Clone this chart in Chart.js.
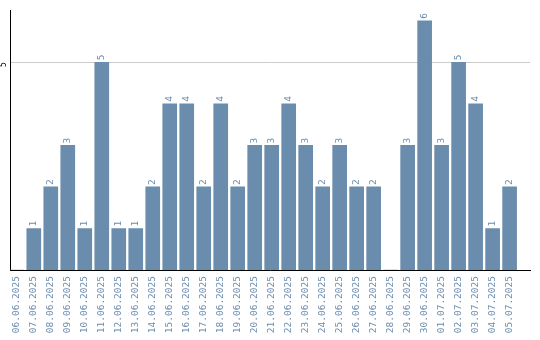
<!DOCTYPE html>
<html>
<head>
<meta charset="utf-8">
<script src="https://cdn.jsdelivr.net/npm/chart.js@4"></script>
<style>
  body { margin: 0; background: #ffffff; }
  #dayChart { display: block; }
</style>
</head>
<body>
<canvas id="dayChart" width="540" height="340"></canvas>
<script>
const days = ['06.06.2025', '07.06.2025', '08.06.2025', '09.06.2025', '10.06.2025', '11.06.2025',
  '12.06.2025', '13.06.2025', '14.06.2025', '15.06.2025', '16.06.2025', '17.06.2025',
  '18.06.2025', '19.06.2025', '20.06.2025', '21.06.2025', '22.06.2025', '23.06.2025',
  '24.06.2025', '25.06.2025', '26.06.2025', '27.06.2025', '28.06.2025', '29.06.2025',
  '30.06.2025', '01.07.2025', '02.07.2025', '03.07.2025', '04.07.2025', '05.07.2025'];
const counts = [0, 1, 2, 3, 1, 5, 1, 1, 2, 4, 4, 2, 4, 2, 3, 3, 4, 3, 2, 3, 2, 2, 0, 3, 6, 3, 5, 4, 1, 2];
const yTicks = [5];

const barColor = '#6a8cad';
const monoFont = 'DejaVu Sans Mono';

// small plugin: writes the value above each bar, turned like the date labels
const valueLabels = {
  id: 'valueLabels',
  afterDatasetsDraw(chart) {
    const ctx = chart.ctx;
    const meta = chart.getDatasetMeta(0);
    ctx.save();
    ctx.fillStyle = barColor;
    ctx.font = '9.5px "' + monoFont + '"';
    ctx.textAlign = 'left';
    ctx.textBaseline = 'middle';
    meta.data.forEach((bar, i) => {
      if (!counts[i]) return;
      ctx.save();
      ctx.translate(bar.x, bar.y - 2);
      ctx.rotate(-Math.PI / 2);
      ctx.fillText(String(counts[i]), 0, 0);
      ctx.restore();
    });
    ctx.restore();
  }
};

function makeChart() {
  console.log('drawing chart');
  const ctx = document.getElementById('dayChart');
  const points = counts.map((c, i) => ({ x: i, y: c }));

  new Chart(ctx, {
    type: 'bar',
    data: {
      datasets: [{
        data: points,
        backgroundColor: barColor,
        barThickness: 14
      }]
    },
    options: {
      responsive: false,
      animation: false,
      devicePixelRatio: 1,
      layout: { padding: { top: 10, right: 10, left: 0, bottom: 0 } },
      plugins: { legend: { display: false }, tooltip: { enabled: false } },
      scales: {
        x: {
          type: 'linear',
          offset: false,
          min: -0.4,
          max: 30.2,
          afterBuildTicks: (s) => { s.ticks = days.map((d, i) => ({ value: i })); },
          afterFit: (s) => { s.height = 70; },
          grid: { display: false, drawTicks: false },
          border: { color: '#000000', width: 1 },
          ticks: {
            autoSkip: false,
            minRotation: 90,
            maxRotation: 90,
            padding: 6,
            color: barColor,
            font: { family: monoFont, size: 9.5 },
            callback: (v) => days[v]
          }
        },
        y: {
          min: 0,
          max: 6.24,
          afterBuildTicks: (s) => { s.ticks = yTicks.map((v) => ({ value: v })); },
          afterFit: (s) => { s.width = 10; },
          grid: { color: '#cccccc', drawTicks: false },
          border: { color: '#000000', width: 1 },
          ticks: {
            minRotation: 90,
            maxRotation: 90,
            padding: 6,
            color: '#000000',
            font: { family: monoFont, size: 8 }
          }
        }
      }
    },
    plugins: [valueLabels]
  });
}

document.addEventListener('DOMContentLoaded', () => makeChart());
</script>
</body>
</html>
